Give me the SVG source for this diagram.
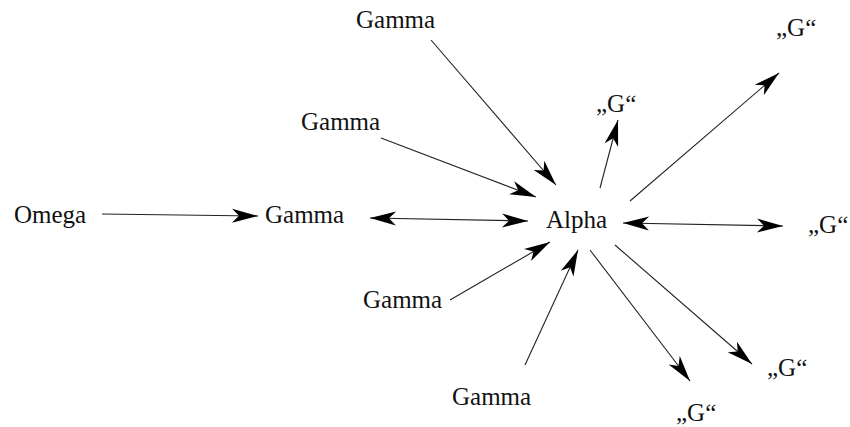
<svg xmlns="http://www.w3.org/2000/svg" width="850" height="427" viewBox="0 0 850 427">
<style>
text{font-family:"Liberation Serif","Times New Roman",serif;font-size:25px;fill:#111}
.c line{stroke:#222;stroke-width:1.1;fill:none}
.a{marker-end:url(#h)}
.b{marker-start:url(#h);marker-end:url(#h)}
</style>
<defs>
<marker id="h" viewBox="-27 -9 28 18" refX="0" refY="0" markerWidth="28" markerHeight="18" markerUnits="userSpaceOnUse" orient="auto-start-reverse">
<path d="M0,0 L-26,-7 L-19,0 L-26,7 Z" fill="#000"/>
</marker>
</defs>
<rect width="850" height="427" fill="#fff"/>
<g class="c" id="connectors">
<line class="a" x1="102" y1="214" x2="258" y2="216"/>
<line class="b" x1="370" y1="218" x2="528" y2="221"/>
<line class="b" x1="623" y1="223" x2="783" y2="226"/>
<line class="a" x1="431" y1="40" x2="556" y2="185"/>
<line class="a" x1="381" y1="138" x2="536" y2="197"/>
<line class="a" x1="450" y1="300" x2="550" y2="242"/>
<line class="a" x1="525" y1="365" x2="578" y2="250"/>
<line class="a" x1="600" y1="188" x2="618" y2="120"/>
<line class="a" x1="630" y1="201" x2="779" y2="73"/>
<line class="a" x1="590" y1="250" x2="690" y2="381"/>
<line class="a" x1="615" y1="245" x2="752" y2="364"/>
</g>
<g id="omega"><text x="14" y="223">Omega</text></g>
<g id="gamma-mid"><text x="265" y="223">Gamma</text></g>
<g id="alpha"><text x="546" y="228">Alpha</text></g>
<g id="gamma-top"><text x="356" y="28">Gamma</text></g>
<g id="gamma-2"><text x="301" y="130">Gamma</text></g>
<g id="gamma-3"><text x="363" y="308">Gamma</text></g>
<g id="gamma-bottom"><text x="452" y="405">Gamma</text></g>
<g id="g-top-right"><text x="776" y="36">„G“</text></g>
<g id="g-small"><text x="596" y="112">„G“</text></g>
<g id="g-right"><text x="808" y="233">„G“</text></g>
<g id="g-lower-right"><text x="767" y="376">„G“</text></g>
<g id="g-bottom"><text x="676" y="421">„G“</text></g>
</svg>
